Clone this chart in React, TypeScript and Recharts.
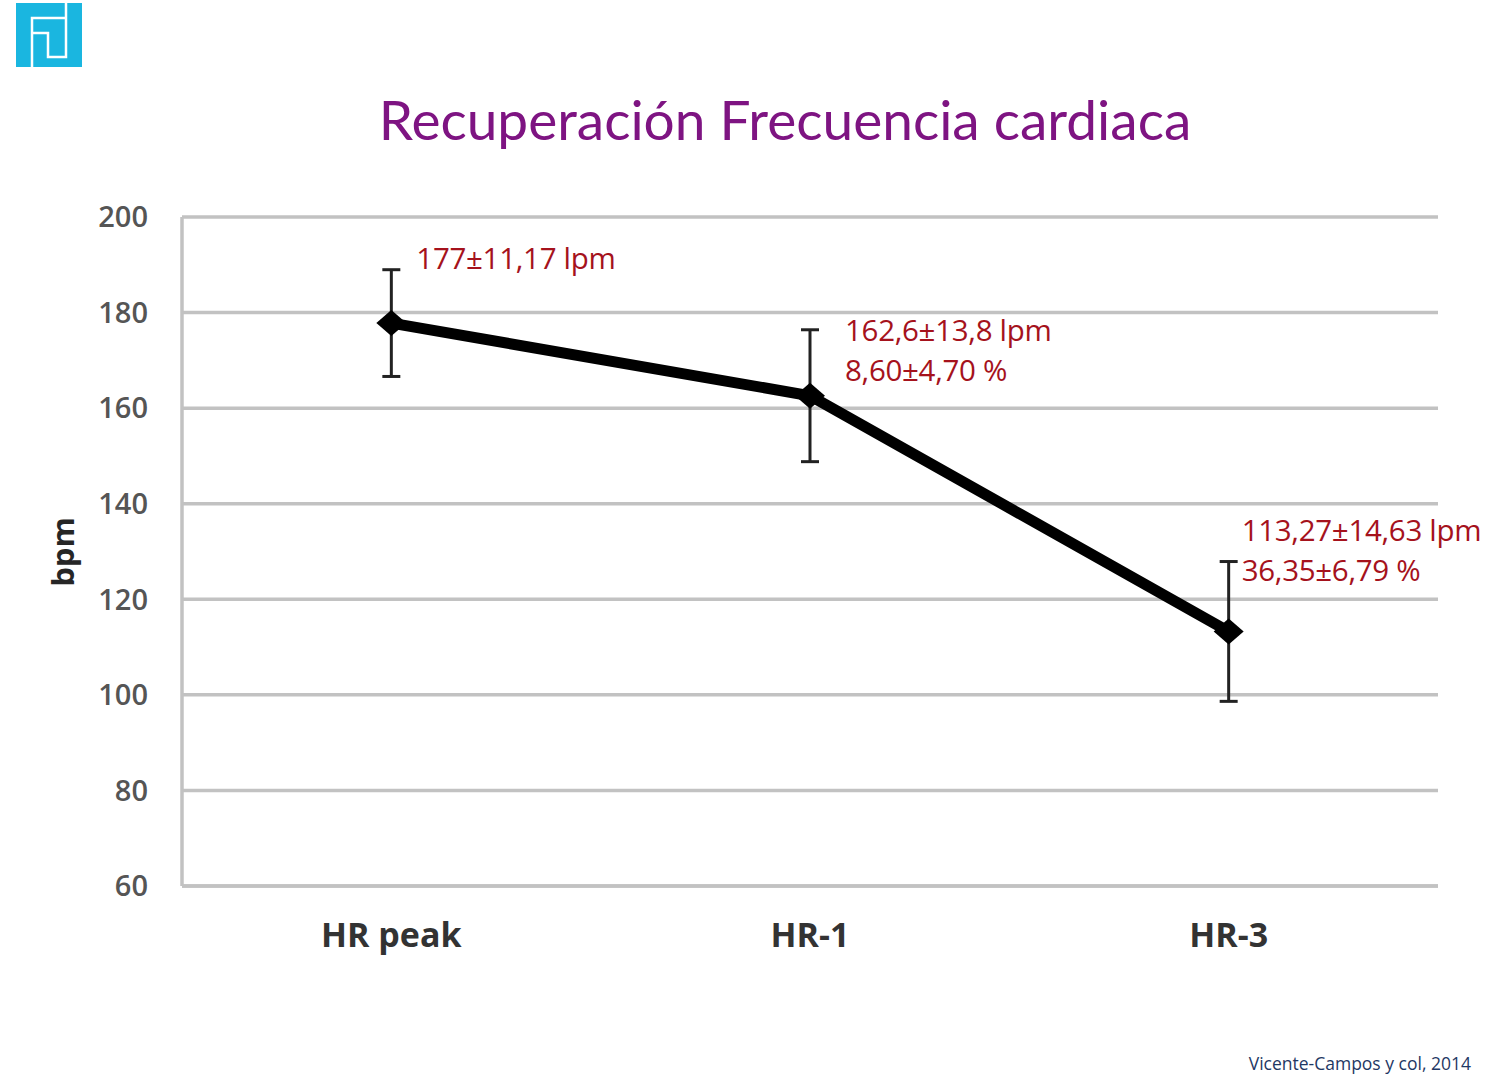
import React from 'react';
import { ComposedChart, Line, XAxis, YAxis, CartesianGrid, ErrorBar, Label } from 'recharts';

const categories = ['HR peak', 'HR-1', 'HR-3'];
const hrValues = [177.8, 162.6, 113.27];
const hrErrors = [11.17, 13.8, 14.63];
const yTicks = [60, 80, 100, 120, 140, 160, 180, 200];
const annotations = [
  ['177±11,17 lpm'],
  ['162,6±13,8 lpm', '8,60±4,70 %'],
  ['113,27±14,63 lpm', '36,35±6,79 %'],
];

const annotationOffsets = [
  { dx: 25, dy: -66 },
  { dx: 35, dy: -66 },
  { dx: 13, dy: -102 },
];

const data = categories.map((name, i) => ({ name, value: hrValues[i], err: hrErrors[i] }));

const renderDot = (props: any) => {
  const { cx, cy, index } = props;
  const off = annotationOffsets[index];
  const lines = annotations[index] || [];
  return (
    <g key={`dot-${index}`}>
      <polygon
        points={`${cx - 15},${cy} ${cx},${cy - 13} ${cx + 15},${cy} ${cx},${cy + 13}`}
        fill="#000"
      />
      {lines.map((t, k) => (
        <text
          key={k}
          x={cx + off.dx}
          y={cy + off.dy + k * 40}
          dominantBaseline="central"
          fontFamily="'Open Sans', sans-serif"
          fontSize={29.5}
          fill="#A5121C"
          letterSpacing={-0.3}
        >
          {t}
        </text>
      ))}
    </g>
  );
};

const BpmLabel = (props: any) => {
  const x = 62;
  const y = 552;
  return (
    <text
      x={x}
      y={y}
      transform={`rotate(-90, ${x}, ${y})`}
      textAnchor="middle"
      dominantBaseline="central"
      fontFamily="'Open Sans', sans-serif"
      fontWeight={700}
      fontSize={31}
      fill="#262626"
    >
      bpm
    </text>
  );
};

const Logo = () => (
  <svg width={70} height={70} style={{ position: 'absolute', left: 14, top: 1 }} viewBox="0 0 70 70">
    <rect x={2} y={2} width={66} height={64} fill="#1AB6E0" />
    <polyline points="18,68 18,17 52,17" fill="none" stroke="#fff" strokeWidth={2.5} />
    <polyline points="18,32 34,32 34,56 52,56 52,2" fill="none" stroke="#fff" strokeWidth={2.5} />
  </svg>
);

export default function App() {
  return (
    <div
      style={{
        position: 'absolute',
        left: 0,
        top: 0,
        width: 1509,
        height: 1087,
        background: '#fff',
        overflow: 'hidden',
      }}
    >
      <Logo />
      <div
        style={{
          position: 'absolute',
          left: 285,
          width: 1000,
          top: 86,
          textAlign: 'center',
          fontFamily: "'Comic Sans MS', Lato, sans-serif",
          fontSize: 55,
          lineHeight: '66px',
          color: '#7E1482',
        }}
      >
        Recuperación Frecuencia cardiaca
      </div>
      <div style={{ position: 'absolute', left: 0, top: 0 }}>
        <ComposedChart
          width={1509}
          height={1087}
          data={data}
          margin={{ top: 217, right: 71, bottom: 141, left: 42 }}
        >
          <CartesianGrid vertical={false} stroke="#c2c2c2" strokeWidth={3.5} />
          <XAxis
            dataKey="name"
            scale="band"
            height={60}
            axisLine={{ stroke: '#c2c2c2', strokeWidth: 3.5 }}
            tickLine={false}
            tickSize={0}
            tickMargin={37}
            tick={{ fontFamily: "'Open Sans', sans-serif", fontWeight: 700, fontSize: 34, fill: '#333' }}
            interval={0}
          />
          <YAxis
            width={140}
            domain={[60, 200]}
            ticks={yTicks}
            axisLine={{ stroke: '#c2c2c2', strokeWidth: 3.5 }}
            tickLine={false}
            tickSize={0}
            tickMargin={34}
            tick={{ fontFamily: "'Open Sans', sans-serif", fontWeight: 600, fontSize: 29, fill: '#555' }}
          >
            <Label content={<BpmLabel />} />
          </YAxis>
          <Line
            dataKey="value"
            type="linear"
            stroke="#000"
            strokeWidth={11}
            dot={renderDot}
            activeDot={false}
            isAnimationActive={false}
          >
            <ErrorBar dataKey="err" width={9} stroke="#222" strokeWidth={3} />
          </Line>
        </ComposedChart>
      </div>
      <div
        style={{
          position: 'absolute',
          right: 38,
          top: 1051,
          fontFamily: "'Open Sans', sans-serif",
          fontSize: 17.5,
          color: '#1F3864',
          whiteSpace: 'nowrap',
        }}
      >
        Vicente-Campos y col, 2014
      </div>
    </div>
  );
}
